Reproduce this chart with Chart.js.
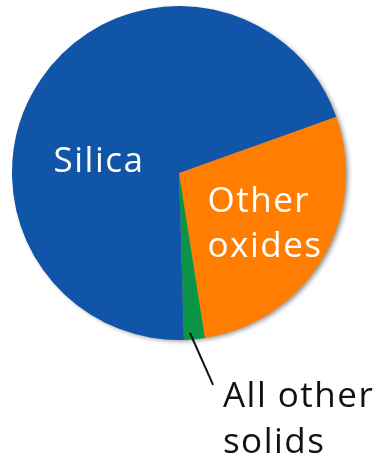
<!DOCTYPE html>
<html>
<head>
<meta charset="utf-8">
<script src="https://cdn.jsdelivr.net/npm/chart.js@4.4.1/dist/chart.umd.min.js"></script>
<style>
    html, body { margin: 0; padding: 0; background: #fff; }
    #wrap { width: 380px; height: 457px; }
</style>
</head>
<body>
<div id="wrap"><canvas id="piechart" width="380" height="457"></canvas></div>
<script>
"use strict";

/* data (percent of solids) */
var categories = ['Other oxides', 'All other solids', 'Silica'];
var shares = [28, 2, 70];
var sliceColors = ['#ff7d00', '#0b9447', '#1155a8'];
/* label lines shown on the chart */
var labelLines = [['Other', 'oxides'], ['All other', 'solids'], ['Silica']];

document.addEventListener("DOMContentLoaded", function () {
    var ctx = document.getElementById('piechart').getContext('2d');

    /* soft grey shadow round the pie */
    var pieShadow = {
        id: 'pieShadow',
        beforeDatasetsDraw: function (chart) {
            var arc = chart.getDatasetMeta(0).data[0];
            var c = chart.ctx;
            c.save();
            c.shadowColor = 'rgba(0, 0, 0, 0.45)';
            c.shadowBlur = 5;
            c.shadowOffsetX = 3;
            c.shadowOffsetY = 2;
            c.fillStyle = '#999';
            c.beginPath();
            c.arc(arc.x, arc.y, arc.outerRadius - 1, 0, Math.PI * 2);
            c.fill();
            c.restore();
        }
    };

    /* slice names, placed relative to pie centre and radius */
    var pieLabels = {
        id: 'pieLabels',
        afterDatasetsDraw: function (chart) {
            var arc = chart.getDatasetMeta(0).data[0];
            var cx = arc.x, cy = arc.y, r = arc.outerRadius;
            var c = chart.ctx;
            c.save();
            c.font = '35px "Open Sans", sans-serif';
            c.letterSpacing = '1.5px';
            c.textBaseline = 'alphabetic';

            /* Silica */
            c.fillStyle = '#fff';
            c.textAlign = 'center';
            c.fillText(labelLines[2][0], cx - 0.479 * r, cy - 0.003 * r);

            /* Other oxides */
            c.textAlign = 'left';
            c.fillText(labelLines[0][0], cx + 0.171 * r, cy + 0.234 * r);
            c.fillText(labelLines[0][1], cx + 0.171 * r, cy + 0.503 * r);

            /* All other solids with leader line */
            c.strokeStyle = '#111';
            c.lineWidth = 2;
            c.beginPath();
            c.moveTo(cx + 0.066 * r, cy + 0.958 * r);
            c.lineTo(cx + 0.204 * r, cy + 1.269 * r);
            c.stroke();
            c.fillStyle = '#111';
            c.fillText(labelLines[1][0], cx + 0.263 * r, cy + 1.401 * r);
            c.fillText(labelLines[1][1], cx + 0.263 * r, cy + 1.677 * r);
            c.restore();
        }
    };

    var pieConfig = {
        type: 'pie',
        data: {
            labels: categories,
            datasets: [{
                data: shares,
                backgroundColor: sliceColors,
                borderWidth: 0,
            }]
        },
        options: {
            responsive: false,
            animation: false,
            rotation: 70.3,
            layout: {
                padding: { left: 12, right: 34, top: 6, bottom: 117 }
            },
            plugins: {
                legend: { display: false },
                tooltip: { enabled: false },
            }
        },
        plugins: [pieShadow, pieLabels]
    };
    new Chart(ctx, pieConfig);
});
</script>
</body>
</html>
